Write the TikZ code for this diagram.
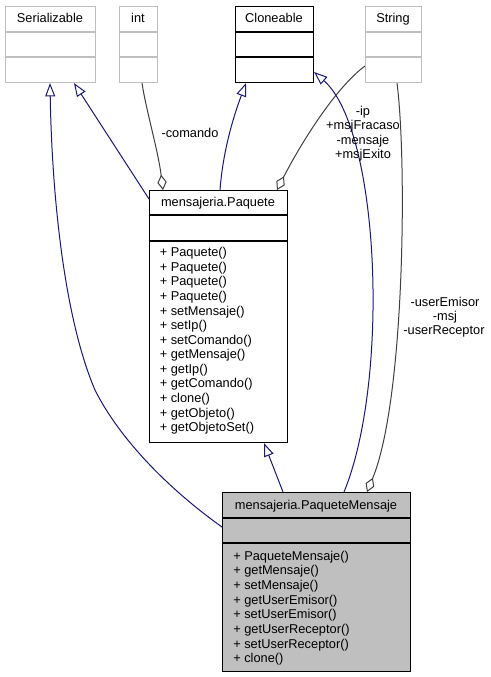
\documentclass[tikz,border=0pt]{standalone}
\usepackage{fontspec}
\setmainfont{Liberation Sans}
\usetikzlibrary{arrows.meta,calc}
\definecolor{navyline}{HTML}{191970}
\definecolor{edgegray}{HTML}{404040}
\definecolor{boxgray}{HTML}{BFBFBF}
\begin{document}
\begin{tikzpicture}[x=0.75pt,y=-0.75pt,
  every node/.style={font=\fontsize{9.6}{11}\selectfont, inner sep=0pt},
  sz/.style 2 args={minimum width=#1*0.75pt, minimum height=#2*0.75pt},
  graycls/.style={draw=boxgray, line width=0.8pt, anchor=north west},
  blackcls/.style={draw=black, line width=0.8pt, anchor=north west},
  grayrule/.style={draw=boxgray, line width=0.8pt},
  blackrule/.style={draw=black, line width=0.8pt},
  inh/.style={draw=navyline, line width=0.75pt, -{Triangle[open,length=10pt,width=7.5pt]}},
  agg/.style={draw=edgegray, line width=0.75pt, {Diamond[open,length=11.5pt,width=7pt]}-},
  lbl/.style={anchor=base},
  meth/.style={anchor=base west}]
\useasboundingbox (0,0) rectangle (490,677);

% classes
\node[graycls, sz={90}{76}] (ser) at (5,6) {};
\node[graycls, sz={38}{76}] (int) at (119,6) {};
\node[blackcls, sz={78}{76}] (cl) at (235,6) {};
\node[graycls, sz={56}{76}] (str) at (365,6) {};
\node[blackcls, sz={138}{252}] (pq) at (149,190) {};
\node[blackcls, fill=boxgray, sz={188}{179}] (pm) at (222,492) {};

% compartment rules
\draw[grayrule] (5,32) -- (95,32) (5,57) -- (95,57);
\draw[grayrule] (119,32) -- (157,32) (119,57) -- (157,57);
\draw[blackrule] (235,32) -- (313,32) (235,57) -- (313,57);
\draw[grayrule] (365,32) -- (421,32) (365,57) -- (421,57);
\draw[blackrule] (149,215) -- (287,215) (149,241) -- (287,241);
\draw[blackrule] (222,518) -- (410,518) (222,543) -- (410,543);

% titles
\node[lbl] (sert) at (50,22.5) {Serializable};
\node[lbl] (intt) at (138,22.5) {int};
\node[lbl] (clt) at (274,22.5) {Cloneable};
\node[lbl] (strt) at (393,22.5) {String};
\node[lbl] (pqt) at (218,206) {mensajeria.Paquete};
\node[lbl] (pmt) at (316,509.5) {mensajeria.PaqueteMensaje};

% methods
\foreach \m [count=\i from 0] in {+ Paquete(), + Paquete(), + Paquete(), + Paquete(), + setMensaje(), + setIp(), + setComando(), + getMensaje(), + getIp(), + getComando(), + clone(), + getObjeto(), + getObjetoSet()}
  \node[meth] (pqm\i) at (159.5,256.7+14.58*\i) {\m};
\foreach \m [count=\i from 0] in {+ PaqueteMensaje(), + getMensaje(), + setMensaje(), + getUserEmisor(), + setUserEmisor(), + getUserReceptor(), + setUserReceptor(), + clone()}
  \node[meth] (pmm\i) at (233,560+14.67*\i) {\m};

% connectors
\draw[inh] ($(pm.north west)+(0,35)$) .. controls (170,490) and (120,440) .. (95,390)
  .. controls (65,320) and (52,200) .. ($(ser.south west)+(45,0)$);
\draw[inh] ($(pq.north west)+(0,9)$) -- ($(ser.south west)+(69,0)$);
\draw[agg] ($(pq.north west)+(14,0)$) .. controls (158,150) and (146,110) .. ($(int.south west)+(23,0)$);
\draw[inh] ($(pq.north west)+(71,0)$) .. controls (223,150) and (234,115) .. ($(cl.south west)+(11,0)$);
\draw[agg] ($(pq.north west)+(128,0)$) .. controls (300,145) and (335,88) .. ($(str.north west)+(0,60)$);
\draw[inh] ($(pm.north west)+(122,0)$) .. controls (390,380) and (380,130) .. ($(cl.north east)+(0,66)$);
\draw[agg] ($(pm.north west)+(145,0)$) .. controls (405,400) and (407,160) .. ($(str.south west)+(32,0)$);
\draw[inh] ($(pm.north west)+(61,0)$) -- ($(pq.south west)+(115,0)$);

% connector labels
\node[lbl] (lcom) at (190,138) {-comando};
\node[lbl] (lip) at (363,115.5) {-ip};
\node[lbl] (lfr) at (363,130) {+msjFracaso};
\node[lbl] (lme) at (363,144.3) {-mensaje};
\node[lbl] (lex) at (363,158.6) {+msjExito};
\node[lbl] (lue) at (445,306) {-userEmisor};
\node[lbl] (lmsj) at (445,320.2) {-msj};
\node[lbl] (lur) at (444,334.4) {-userReceptor};
\end{tikzpicture}
\end{document}
